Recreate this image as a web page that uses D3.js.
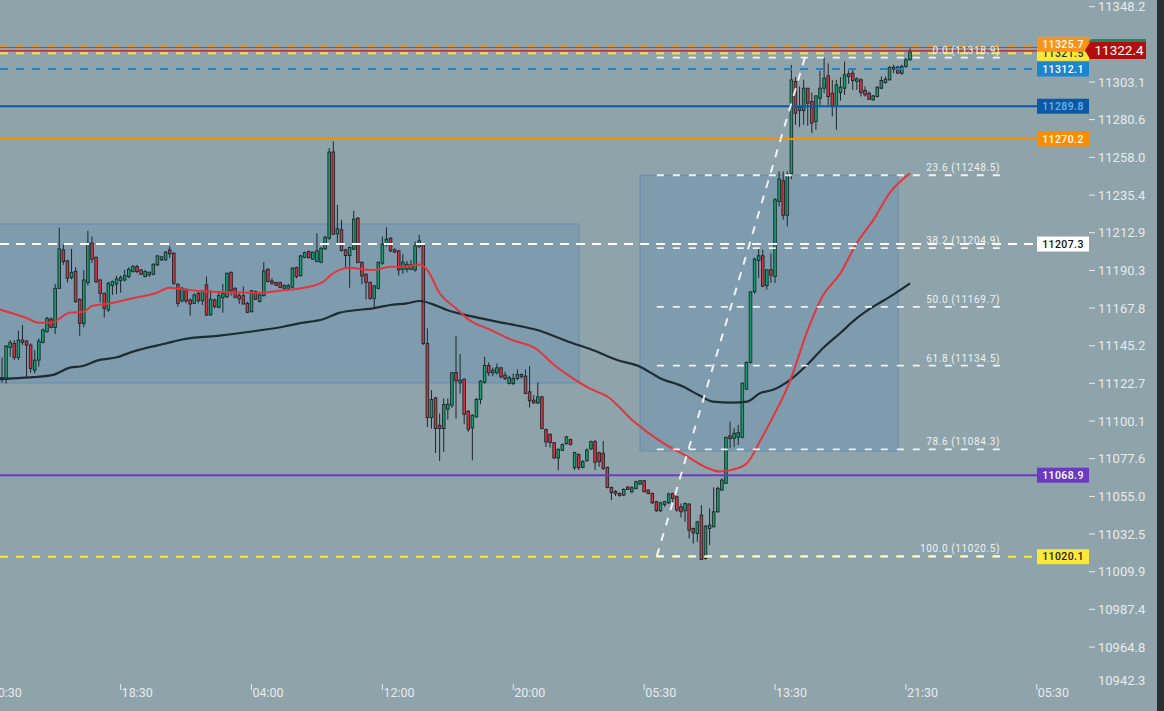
<!DOCTYPE html>
<html>
<head>
<meta charset="utf-8">
<script src="https://cdn.jsdelivr.net/npm/d3@7/dist/d3.min.js"></script>
<style>
  body { margin: 0; background: #8fa3aa; overflow: hidden; }
  svg { display: block; }
  text { font-family: Roboto, "Noto Sans", sans-serif; }
</style>
</head>
<body>
<div id="chart"></div>
<script>
"use strict";
(function() {

const WIDTH = 1164
const HEIGHT = 711

const BG = "#8fa3aa"
const UP = "#14a06c"
const DOWN = "#d8323f"
const OUTLINE = "#1c262b"
const TEXT = "#e6ebed"

// candles, 15 min bars, index 0 = first bar on the left
const open = [11127.4,11126.2,11145.4,11147.8,11139.4,11149.8,11149.2,11146.8,11131.8,11137.8,
  11148.4,11154.8,11162.4,11157.4,11180.8,11203.8,11197.2,11187.2,11191.0,11174.2,
  11159.8,11184.2,11207.8,11199.4,11185.8,11177.8,11167.8,11182.4,11183.4,11185.4,
  11185.8,11187.8,11190.8,11193.8,11191.8,11187.8,11188.8,11189.2,11194.8,11197.8,
  11197.8,11203.8,11201.8,11183.2,11173.2,11180.2,11173.8,11171.8,11177.8,11173.4,
  11182.8,11164.8,11173.8,11169.4,11175.2,11175.8,11190.4,11180.8,11176.4,11176.4,
  11171.8,11166.8,11178.8,11172.8,11176.4,11192.2,11185.2,11184.2,11184.2,11180.8,
  11180.8,11181.4,11193.2,11188.4,11199.4,11202.8,11198.2,11196.8,11196.4,11204.4,
  11210.8,11262.4,11213.4,11215.8,11203.8,11200.4,11204.2,11222.8,11196.4,11189.2,
  11184.4,11174.8,11180.8,11195.8,11206.8,11210.8,11203.8,11203.2,11192.2,11192.2,
  11192.2,11191.8,11205.8,11206.8,11147.8,11103.4,11115.2,11098.8,11096.8,11108.4,
  11110.8,11130.4,11124.2,11126.4,11107.2,11097.2,11103.8,11114.2,11124.4,11134.6,
  11130.2,11130.2,11133.2,11128.8,11123.8,11123.8,11126.8,11127.8,11128.2,11118.8,
  11113.8,11112.2,11115.8,11096.2,11093.4,11088.4,11079.2,11083.8,11087.8,11090.2,
  11073.4,11081.3,11073.6,11077.6,11084.6,11089.0,11082.4,11082.0,11073.6,11061.6,
  11059.2,11058.0,11057.0,11061.8,11059.0,11061.0,11063.6,11065.6,11060.0,11058.0,
  11053.0,11047.6,11051.4,11052.4,11058.0,11056.0,11050.0,11047.6,11051.6,11037.0,
  11034.0,11045.0,11019.0,11037.0,11038.0,11047.0,11060.0,11064.0,11092.4,11091.0,
  11091.6,11091.6,11120.4,11136.5,11178.8,11197.5,11200.3,11182.4,11191.9,11187.9,
  11232.8,11245.2,11224.5,11249.4,11304.6,11287.2,11287.2,11300.6,11292.6,11280.7,
  11294.6,11300.6,11308.0,11297.6,11289.6,11298.0,11300.6,11309.2,11309.6,11304.6,
  11305.6,11299.2,11297.6,11293.6,11295.6,11300.6,11304.0,11305.6,11312.0,11313.2,
  11309.6,11313.6,11317.6]

const high = [11139.4,11146.8,11149.8,11149.8,11155.4,11158.8,11149.8,11147.8,11143.8,11150.8,
  11156.8,11163.8,11163.4,11183.4,11217.0,11206.8,11197.8,11204.4,11193.4,11174.8,
  11191.8,11215.2,11211.8,11199.8,11186.2,11178.2,11184.8,11185.4,11188.4,11188.4,
  11191.8,11193.4,11194.8,11194.8,11192.2,11191.8,11190.8,11195.8,11200.6,11200.2,
  11203.2,11205.8,11202.4,11183.8,11181.8,11180.8,11174.8,11177.8,11178.8,11179.8,
  11187.8,11179.8,11174.8,11178.8,11183.4,11190.2,11190.8,11181.4,11177.8,11181.8,
  11172.8,11179.8,11179.4,11177.8,11196.4,11192.8,11186.8,11184.8,11184.8,11183.2,
  11183.4,11193.4,11193.8,11200.8,11202.8,11203.4,11202.8,11213.8,11205.4,11212.2,
  11264.8,11268.8,11230.8,11221.8,11204.4,11205.8,11227.2,11223.4,11196.8,11189.8,
  11184.8,11182.8,11196.8,11211.8,11217.4,11211.4,11204.8,11203.8,11201.2,11197.2,
  11197.8,11208.8,11212.8,11207.4,11156.8,11119.8,11115.8,11105.8,11114.8,11114.8,
  11130.8,11152.2,11141.4,11126.8,11107.8,11105.4,11115.2,11125.8,11139.8,11136.4,
  11133.4,11135.8,11133.8,11130.8,11128.4,11129.8,11132.2,11129.8,11132.2,11134.2,
  11116.8,11124.4,11116.4,11096.8,11093.8,11088.8,11084.8,11087.8,11092.4,11090.8,
  11082.9,11081.9,11078.0,11084.9,11089.6,11090.0,11083.0,11089.4,11074.0,11062.0,
  11060.0,11058.6,11061.0,11062.4,11062.4,11065.6,11066.0,11066.0,11060.4,11058.4,
  11053.6,11053.0,11053.6,11058.4,11058.4,11056.4,11052.0,11052.4,11052.0,11037.6,
  11041.6,11051.0,11039.0,11049.0,11061.6,11062.0,11067.0,11092.0,11101.0,11097.0,
  11099.0,11124.4,11137.0,11179.0,11199.1,11204.9,11203.9,11192.1,11201.7,11234.8,
  11250.8,11250.8,11250.8,11314.5,11307.2,11301.6,11305.6,11300.8,11298.0,11296.4,
  11311.1,11318.9,11315.5,11305.6,11305.6,11307.2,11316.6,11311.2,11312.6,11307.2,
  11306.6,11301.6,11298.6,11296.6,11301.6,11307.6,11307.6,11313.6,11314.6,11314.0,
  11314.6,11318.6,11324.5]

const low = [11124.2,11123.8,11139.8,11137.8,11137.8,11146.8,11127.4,11130.2,11129.8,11133.8,
  11147.8,11154.2,11156.8,11153.4,11180.4,11194.8,11184.2,11186.2,11172.2,11152.4,
  11157.4,11182.4,11195.8,11183.8,11172.4,11163.2,11166.8,11176.8,11177.4,11178.2,
  11184.8,11186.8,11190.2,11189.8,11188.8,11187.4,11187.8,11188.6,11194.2,11197.2,
  11197.4,11198.8,11182.8,11169.8,11172.4,11171.8,11164.4,11171.4,11171.8,11170.8,
  11164.2,11164.4,11168.8,11168.8,11166.2,11174.8,11176.4,11174.8,11171.4,11171.2,
  11166.0,11166.4,11173.8,11172.4,11175.8,11184.4,11182.8,11182.2,11180.8,11180.4,
  11180.4,11180.8,11186.8,11187.8,11198.8,11198.6,11197.8,11196.4,11195.8,11203.8,
  11209.8,11212.8,11207.8,11202.8,11193.4,11181.2,11203.8,11195.8,11183.2,11174.2,
  11173.8,11169.2,11180.2,11194.8,11205.8,11202.4,11201.8,11188.4,11189.4,11190.2,
  11191.8,11190.8,11204.8,11146.8,11097.8,11096.8,11082.2,11077.4,11082.8,11102.2,
  11109.2,11102.8,11117.8,11099.4,11094.8,11077.8,11103.4,11111.4,11123.8,11128.2,
  11128.2,11129.2,11126.8,11125.8,11123.2,11122.8,11125.8,11126.8,11117.4,11109.4,
  11111.8,11111.4,11096.4,11085.8,11085.4,11078.8,11071.8,11083.4,11087.2,11086.8,
  11072.0,11072.0,11073.0,11077.0,11084.0,11072.0,11074.0,11072.0,11061.0,11054.0,
  11056.4,11056.0,11056.4,11060.0,11058.0,11060.4,11063.0,11058.6,11057.4,11051.6,
  11047.0,11047.0,11050.0,11051.6,11052.0,11047.0,11043.6,11041.0,11031.0,11028.0,
  11029.0,11018.0,11018.4,11027.0,11037.6,11046.4,11059.6,11063.6,11085.0,11085.6,
  11087.0,11091.0,11120.0,11135.6,11177.6,11187.0,11181.6,11180.0,11184.0,11184.0,
  11229.8,11221.9,11217.9,11246.2,11278.7,11277.3,11278.7,11278.1,11273.7,11275.7,
  11290.6,11297.6,11290.6,11283.7,11275.7,11293.2,11296.6,11303.2,11299.6,11299.6,
  11295.6,11295.6,11293.6,11293.2,11295.2,11300.0,11303.2,11305.2,11309.6,11309.2,
  11308.6,11312.6,11317.2]

const close = [11126.2,11146.2,11148.4,11139.4,11149.8,11148.4,11146.8,11132.8,11137.8,11149.2,
  11155.8,11162.8,11157.4,11180.8,11204.4,11196.8,11186.8,11190.4,11172.8,11159.8,
  11185.8,11207.8,11198.2,11184.8,11177.8,11168.8,11183.8,11184.8,11186.4,11187.2,
  11188.4,11192.2,11193.8,11190.8,11189.2,11190.8,11190.4,11195.2,11200.2,11199.6,
  11202.4,11201.4,11183.8,11171.8,11180.8,11173.2,11171.4,11176.8,11173.4,11179.2,
  11164.8,11174.2,11169.8,11176.4,11177.8,11189.8,11179.4,11175.4,11174.4,11171.4,
  11166.4,11179.4,11174.2,11176.8,11191.2,11184.8,11183.8,11182.6,11181.4,11182.4,
  11182.4,11192.8,11187.8,11200.2,11202.2,11199.2,11202.4,11203.2,11204.8,11211.4,
  11262.4,11213.2,11216.4,11203.4,11200.4,11205.2,11222.2,11196.2,11188.2,11184.4,
  11174.8,11182.2,11196.4,11207.2,11210.2,11203.2,11202.4,11191.8,11196.4,11195.2,
  11194.8,11206.2,11209.2,11147.8,11103.4,11114.2,11096.8,11096.8,11111.2,11111.4,
  11130.2,11125.4,11125.8,11105.4,11096.4,11104.8,11114.2,11125.2,11134.6,11130.2,
  11131.8,11133.2,11127.8,11126.8,11127.4,11126.8,11129.2,11129.2,11117.8,11113.4,
  11112.2,11115.8,11096.8,11088.8,11088.4,11079.2,11084.4,11087.2,11091.8,11087.2,
  11082.5,11073.4,11077.0,11083.9,11089.0,11076.6,11077.0,11073.0,11061.6,11058.4,
  11058.0,11056.8,11060.4,11060.4,11061.4,11065.0,11065.6,11059.0,11058.0,11052.4,
  11047.6,11052.4,11053.0,11057.6,11055.0,11048.0,11047.0,11052.0,11036.0,11034.4,
  11041.0,11018.4,11038.4,11039.0,11047.0,11061.0,11066.0,11091.6,11090.8,11094.0,
  11094.4,11124.0,11136.4,11178.6,11198.3,11200.3,11182.0,11191.9,11188.7,11233.8,
  11246.2,11224.5,11248.8,11305.6,11285.6,11289.2,11300.6,11291.6,11279.7,11296.0,
  11300.6,11306.6,11295.6,11290.0,11302.6,11301.2,11308.6,11307.6,11305.2,11306.2,
  11298.0,11296.6,11294.0,11296.0,11301.2,11305.2,11306.0,11313.2,11313.2,11309.6,
  11313.6,11317.6,11322.4]

// moving averages: [bar index, price]
const fastMA = [[-1,11168.4],[6,11163.0],[9,11160.2],[12,11160.2],[13.5,11161.8],[16.5,11166.2],
  [20,11166.8],[22,11170.2],[26.5,11171.8],[32,11174.8],[37.5,11177.8],[41,11181.2],[44,11180.2],
  [51,11178.8],[63,11178.2],[68,11179.4],[73,11180.8],[78.5,11184.7],[81,11189.8],[85,11193.1],
  [90.5,11191.7],[95,11193.7],[99,11193.7],[102,11195.1],[104,11191.7],[107,11177.8],[111,11168.8],
  [114.5,11161.4],[119.5,11155.9],[124,11150.5],[131,11143.9],[134.5,11135.9],[139.5,11127.0],
  [144,11120.4],[148,11116.0],[154.5,11101.0],[161,11089.1],[167.5,11080.1],[172.5,11073.2],
  [175.5,11071.1],[178.5,11072.1],[182,11075.7],[185.5,11090.1],[188.5,11103.8],[192.5,11124.2],
  [197,11155.9],[200.5,11175.6],[205,11189.9],[209,11207.9],[213,11221.6],[217,11237.8],[222,11249.7]]

const slowMA = [[-1,11126.4],[3.7,11127.0],[7.6,11127.6],[12.5,11129.0],[16.6,11133.3],[19.8,11134.3],
  [23.2,11137.5],[28.1,11139.5],[32,11142.9],[40.3,11147.9],[44.3,11150.3],[52.6,11152.3],
  [60.6,11154.8],[68.7,11157.8],[72.9,11159.9],[78.5,11162.3],[82.6,11166.2],[86.8,11167.8],
  [90.7,11168.8],[94.9,11170.8],[99,11171.8],[102.2,11173.2],[105.4,11171.2],[108.8,11167.8],
  [115.2,11163.8],[121,11160.8],[127.4,11157.8],[131.5,11155.4],[135.7,11151.5],[139.6,11147.9],
  [143.8,11144.5],[150.4,11137.9],[156,11133.9],[160.9,11127.0],[166.5,11122.0],[170.7,11116.4],
  [173.8,11113.0],[178.7,11112.4],[182.2,11113.0],[185.3,11118.0],[188.5,11120.0],[192.7,11126.0],
  [196.8,11134.9],[200.7,11144.9],[204.9,11153.9],[209,11162.9],[213,11169.8],[217.1,11175.8],
  [222,11183.8]]

// shaded zones
const zoneFrom = [-10, 156]
const zoneTo = [141.1, 219.1]
const zoneTop = [11219.3, 11248.5]
const zoneBottom = [11124.1, 11083.4]

// horizontal price levels
const levelPrices = [11325.7, 11321.5, 11312.1, 11289.8, 11270.2, 11207.3, 11068.9, 11020.1]
const lastPrice = 11322.4
const askPrice = 11325.0

// fibonacci retracement
const fibRatios = ["0.0", "23.6", "38.2", "50.0", "61.8", "78.6", "100.0"]
const fibPrices = [11318.9, 11248.5, 11204.9, 11169.7, 11134.5, 11084.3, 11020.5]
const fibFrom = 160.1
const fibTo = 244
const swingLow = [160.1, 11020.5]
const swingHigh = [196.3, 11318.9]

// axis labels (11325.7 sits under the last price tag, so it is not drawn)
const priceTicks = [11348.2, 11303.1, 11280.6, 11258.0, 11235.4, 11212.9, 11190.3, 11167.8,
  11145.2, 11122.7, 11100.1, 11077.6, 11055.0, 11032.5, 11009.9, 10987.4, 10964.8]
const bottomTick = 10942.3
const timeIdx = [-3, 29, 61, 93, 125, 157, 189, 221, 253]
const timeLabels = ["10:30", "18:30", "04:00", "12:00", "20:00", "05:30", "13:30", "21:30", "05:30"]

const levelStyle = [
  { line: "#f7931e", dash: "7,9", box: "#f7941d", text: "#ffffff", shift: -2 },
  { line: "#ffe53b", dash: "8,8", box: "#fde83a", text: "#333333", shift: 0 },
  { line: "#1a86cf", dash: "8,8", box: "#1a86cf", text: "#ffffff", shift: 0 },
  { line: "#0b58a6", dash: null, box: "#0b58a6", text: "#6cb2ea", shift: 0 },
  { line: "#fb8c00", dash: null, box: "#fb8c00", text: "#ffffff", shift: 0 },
  { line: "#ffffff", dash: "9,7", box: "#ffffff", text: "#111111", shift: 0 },
  { line: "#6a3bc1", dash: null, box: "#6a3bc1", text: "#ffffff", shift: 0 },
  { line: "#ffe92f", dash: "8,8", box: "#fde83a", text: "#222222", shift: 0 }
]

const x = d3.scaleLinear().domain([0, 222]).range([2, 910])
const y = d3.scaleLinear().domain([11020.1, 11312.1]).range([556.7, 69])

const svg = d3.select("#chart").append("svg")
    .attr("width", WIDTH)
    .attr("height", HEIGHT)

svg.append("rect").attr("width", WIDTH).attr("height", HEIGHT).attr("fill", BG)

// zones
svg.append("g").selectAll("rect")
  .data(d3.range(zoneFrom.length))
  .join("rect")
    .attr("x", i => x(zoneFrom[i]))
    .attr("y", i => y(zoneTop[i]))
    .attr("width", i => x(zoneTo[i]) - x(zoneFrom[i]))
    .attr("height", i => y(zoneBottom[i]) - y(zoneTop[i]))
    .attr("fill", "rgba(80,135,185,0.27)")
    .attr("stroke", "rgba(95,130,170,0.55)")
    .attr("stroke-width", 1.2)

// candles
const bars = d3.range(open.length)
const candles = svg.append("g")

candles.selectAll("line")
  .data(bars)
  .join("line")
    .attr("x1", i => x(i)).attr("x2", i => x(i))
    .attr("y1", i => y(high[i])).attr("y2", i => y(low[i]))
    .attr("stroke", OUTLINE)
    .attr("stroke-width", 1)

candles.selectAll("rect")
  .data(bars)
  .join("rect")
    .attr("x", i => x(i) - 1.3)
    .attr("width", 2.6)
    .attr("y", i => y(Math.max(open[i], close[i])))
    .attr("height", i => Math.max(0.8, Math.abs(y(open[i]) - y(close[i]))))
    .attr("fill", i => close[i] >= open[i] ? UP : DOWN)
    .attr("stroke", OUTLINE)
    .attr("stroke-width", 0.9)

// moving averages
const maLine = d3.line()
  .x(d => x(d[0]))
  .y(d => y(d[1]))
  .curve(d3.curveMonotoneX)

svg.append("path").attr("d", maLine(slowMA))
  .attr("fill", "none").attr("stroke", "#1f2c33").attr("stroke-width", 2.2)
svg.append("path").attr("d", maLine(fastMA))
  .attr("fill", "none").attr("stroke", "#e2353d").attr("stroke-width", 2)

// level lines
const LINE_END = 1037
svg.append("g").selectAll("line")
  .data(d3.range(levelPrices.length))
  .join("line")
    .attr("x1", 0).attr("x2", LINE_END)
    .attr("y1", i => y(levelPrices[i])).attr("y2", i => y(levelPrices[i]))
    .attr("stroke", i => levelStyle[i].line)
    .attr("stroke-width", 2)
    .attr("stroke-dasharray", i => levelStyle[i].dash)

svg.append("line")
  .attr("x1", 0).attr("x2", 1086)
  .attr("y1", y(askPrice)).attr("y2", y(askPrice))
  .attr("stroke", "#178a5e").attr("stroke-width", 1)
svg.append("line")
  .attr("x1", 0).attr("x2", 1086)
  .attr("y1", y(lastPrice) - 1).attr("y2", y(lastPrice) - 1)
  .attr("stroke", "#c8121a").attr("stroke-width", 1.2)

// fibonacci
const fib = svg.append("g")
fib.selectAll("line")
  .data(fibPrices)
  .join("line")
    .attr("x1", x(fibFrom)).attr("x2", x(fibTo))
    .attr("y1", d => y(d)).attr("y2", d => y(d))
    .attr("stroke", "rgba(255,255,255,0.88)")
    .attr("stroke-width", 1.8)
    .attr("stroke-dasharray", "7,9")

fib.selectAll("text")
  .data(d3.range(fibPrices.length))
  .join("text")
    .attr("x", x(fibTo))
    .attr("y", i => y(fibPrices[i]) - 4)
    .attr("text-anchor", "end")
    .attr("font-size", 10)
    .attr("letter-spacing", 0.6)
    .attr("fill", "#eef1f2")
    .text(i => `${fibRatios[i]} (${fibPrices[i].toFixed(1)})`)

fib.append("line")
  .attr("x1", x(swingLow[0])).attr("y1", y(swingLow[1]))
  .attr("x2", x(swingHigh[0])).attr("y2", y(swingHigh[1]))
  .attr("stroke", "rgba(255,255,255,0.88)")
  .attr("stroke-width", 2)
  .attr("stroke-dasharray", "8,8")

// price axis
const axis = svg.append("g")
axis.selectAll("line")
  .data(priceTicks)
  .join("line")
    .attr("x1", 1089).attr("x2", 1095)
    .attr("y1", d => y(d) - 2).attr("y2", d => y(d) - 2)
    .attr("stroke", TEXT).attr("stroke-width", 1)

axis.selectAll("text")
  .data(priceTicks)
  .join("text")
    .attr("x", 1098)
    .attr("y", d => y(d) - 2)
    .attr("dy", "0.35em")
    .attr("font-size", 13)
    .attr("fill", TEXT)
    .text(d => d.toFixed(1))

axis.append("text")
  .attr("x", 1098).attr("y", y(bottomTick) - 6).attr("dy", "0.35em")
  .attr("font-size", 13).attr("fill", TEXT)
  .text(bottomTick.toFixed(1))

// time axis
const times = svg.append("g")
times.selectAll("line")
  .data(timeIdx)
  .join("line")
    .attr("x1", d => x(d)).attr("x2", d => x(d))
    .attr("y1", 684).attr("y2", 690)
    .attr("stroke", TEXT).attr("stroke-width", 1)

times.selectAll("text")
  .data(d3.range(timeIdx.length))
  .join("text")
    .attr("x", i => x(timeIdx[i]) + 1)
    .attr("y", 693)
    .attr("dy", "0.35em")
    .attr("font-size", 12.5)
    .attr("fill", TEXT)
    .text(i => timeLabels[i])

// level label boxes, drawn bottom-up so the top ones sit above
const boxes = svg.append("g")
d3.range(levelPrices.length).reverse().forEach(i => {
  const cy = y(levelPrices[i]) + levelStyle[i].shift
  boxes.append("rect")
    .attr("x", 1037).attr("y", cy - 7.5)
    .attr("width", 52).attr("height", 15)
    .attr("fill", levelStyle[i].box)
  boxes.append("text")
    .attr("x", 1063).attr("y", cy).attr("dy", "0.36em")
    .attr("text-anchor", "middle")
    .attr("font-size", 10.5)
    .attr("font-weight", 500)
    .attr("letter-spacing", 0.4)
    .attr("fill", levelStyle[i].text)
    .text(levelPrices[i].toFixed(1))
})

// last price tag
const c = y(lastPrice) - 1.3
svg.append("polygon")
  .attr("points", [[1088, c - 8.5], [1091.5, c - 11.5], [1146, c - 11.5], [1146, c - 8.5]].join(" "))
  .attr("fill", "#178a5e")
svg.append("polygon")
  .attr("points", [[1085, c], [1090, c - 8.5], [1146, c - 8.5], [1146, c + 8.5], [1090, c + 8.5]].join(" "))
  .attr("fill", "#b30e0e")
svg.append("text")
  .attr("x", 1119).attr("y", c).attr("dy", "0.36em")
  .attr("text-anchor", "middle")
  .attr("font-size", 13.5)
  .attr("fill", "#ffffff")
  .text(lastPrice.toFixed(1))

// dark strip on the right edge
svg.append("rect").attr("x", 1157).attr("y", 0).attr("width", 7).attr("height", HEIGHT).attr("fill", "#2b2f35")

})();
</script>
</body>
</html>
